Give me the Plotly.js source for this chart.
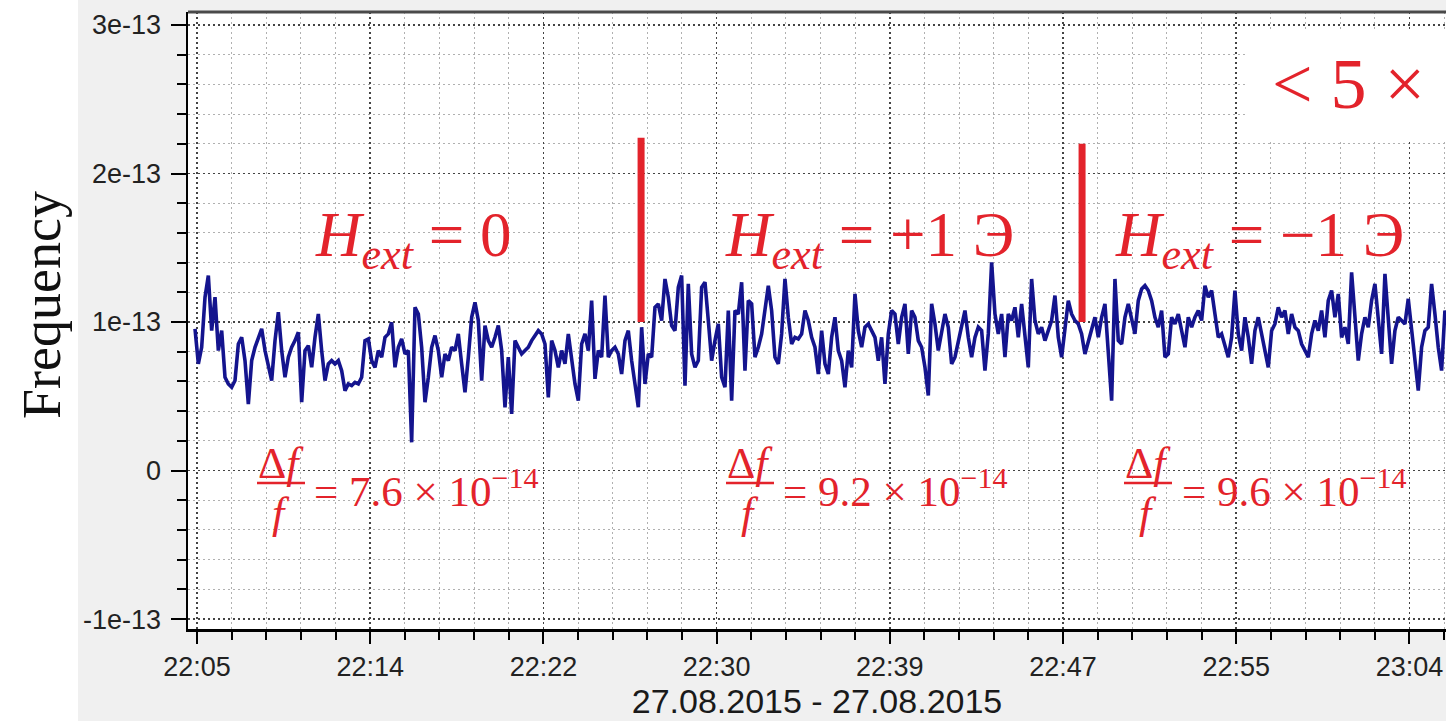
<!DOCTYPE html>
<html><head><meta charset="utf-8">
<script src="https://cdn.plot.ly/plotly-3.0.1.min.js"></script>
<style>html,body{margin:0;padding:0;background:#fff}#chart{width:1446px;height:721px}</style>
</head><body><div id="chart"></div>
<script>
// ---- data ----
const xTickLabels = ['22:05','22:14','22:22','22:30','22:39','22:47','22:55','23:04'];
const yTickValues = [-1e-13, 0, 1e-13, 2e-13, 3e-13];
const yTickLabels = ['-1e-13','0','1e-13','2e-13','3e-13'];

// frequency deviation, units of 1e-14, sampled every ~9.7 s
const freqZeroField = [
9.54, 7.18, 8.30, 11.67, 13.13, 9.42, 11.67, 8.08, 9.42, 6.28,
5.83, 5.61, 6.06, 8.52, 8.97, 7.40, 4.48, 7.40, 8.30, 8.97,
9.54, 8.08, 7.18, 6.06, 8.75, 10.66, 8.08, 6.28, 7.63, 8.30,
8.75, 9.31, 4.60, 8.08, 8.41, 6.95, 8.97, 10.54, 8.08, 6.06,
7.18, 7.40, 7.18, 7.40, 6.73, 5.38, 5.83, 5.72, 5.94, 5.83,
6.28, 8.75, 8.86, 7.40, 6.95, 8.08, 7.63, 8.97, 9.20, 9.98,
6.95, 8.30, 8.86, 7.85, 8.08, 1.90, 10.99, 10.54, 8.30, 4.60,
6.28, 8.30, 9.09, 8.08, 6.28, 7.85, 7.40, 8.30, 8.08, 9.20,
7.18, 5.27, 7.63, 10.32, 11.33, 10.10, 6.06, 9.76, 8.75, 8.30,
8.97, 9.76, 8.08, 4.26, 7.63, 3.81, 8.75, 8.30, 7.85, 8.08,
8.30, 8.75, 9.09, 9.42, 9.20, 8.52, 4.93, 8.75, 8.08, 6.95,
8.08, 7.18, 9.20, 7.63, 5.83, 4.71, 8.52, 9.20, 8.08, 11.44,
6.17, 8.08, 7.63, 11.78, 7.63, 8.08, 8.30, 7.85, 6.50, 8.75,
9.42, 7.40, 5.61, 4.26, 9.65, 5.83, 7.85];
const freqPlusField = [
7.63, 10.99, 11.22, 10.10, 12.90, 11.67, 9.76, 9.42, 12.34, 13.13,
5.72, 12.57, 7.85, 6.95, 7.40, 12.34, 12.68, 10.10, 7.40, 8.75,
9.87, 6.28, 5.61, 10.77, 4.71, 10.77, 10.54, 12.68, 6.73, 11.44,
11.22, 7.63, 8.30, 9.20, 10.77, 12.45, 10.77, 7.63, 7.18, 9.20,
12.90, 10.32, 8.52, 8.97, 8.86, 9.20, 10.77, 10.10, 8.97, 8.30,
6.50, 9.42, 7.18, 6.50, 8.97, 10.32, 8.08, 7.40, 5.61, 8.08,
6.95, 11.89, 9.42, 8.30, 9.65, 9.87, 9.42, 8.97, 7.40, 8.97,
5.83, 9.20, 10.77, 10.54, 8.52, 10.32, 11.22, 7.85, 10.77, 10.32,
8.75, 8.30, 6.95, 5.05, 11.22, 9.87, 8.08, 9.20, 10.54, 9.65,
7.18, 7.63, 8.75, 9.87, 10.77, 8.97, 7.63, 8.97, 9.65, 9.42,
6.73, 9.20, 14.02, 10.54, 9.20, 10.54, 7.63, 10.54, 10.10, 10.99,
8.97, 11.22, 9.20, 6.95, 12.90, 10.10, 9.20, 9.65, 8.75, 9.42,
10.10, 11.78, 8.97, 7.63, 9.65, 11.44, 10.54, 10.10, 9.87, 9.20,
7.85, 8.75, 9.65, 10.32, 8.97];
const freqMinusField = [
10.32, 11.22, 8.30, 4.71, 12.90, 8.75, 8.52, 10.32, 11.22, 10.10,
9.20, 11.44, 12.23, 12.45, 12.12, 11.44, 10.32, 9.65, 10.77, 7.63,
7.85, 10.32, 9.87, 10.54, 9.42, 8.30, 10.32, 9.65, 10.32, 10.77,
10.10, 12.45, 11.67, 12.12, 10.54, 8.97, 9.20, 8.30, 7.63, 8.97,
12.12, 9.20, 8.08, 10.32, 8.97, 7.18, 9.42, 10.32, 9.20, 8.08,
6.95, 9.42, 9.87, 10.99, 10.32, 10.77, 9.20, 10.54, 9.65, 9.42,
8.52, 8.08, 7.63, 9.20, 10.10, 9.42, 10.77, 8.97, 11.44, 12.12,
10.32, 11.89, 8.97, 9.65, 8.52, 13.35, 10.32, 7.40, 9.20, 10.32,
9.65, 11.44, 12.57, 10.32, 7.85, 13.24, 10.32, 7.18, 9.42, 10.32,
10.10, 9.87, 11.56, 9.65, 7.40, 5.38, 8.30, 9.42, 9.65, 12.57,
10.54, 8.30, 6.73, 10.77, 9.65];

const sampleStartMin = 4.903;   // minutes after 22:00
const sampleStepMin = 0.1622;   // sampling period in minutes
const tickStartMin = 5;         // 22:05
const tickStepMin = 59 / 7;     // label spacing

// field-switch markers
const switchMin  = [26.61, 48.07];
const switchLow  = [1.0e-13, 1.0e-13];
const switchHigh = [2.24e-13, 2.20e-13];

const fieldLabels = [
  '<i>H</i><sub><i>ext</i></sub> = 0',
  '<i>H</i><sub><i>ext</i></sub> = +1 Э',
  '<i>H</i><sub><i>ext</i></sub> = −1 Э'
];
const stabilityValues = ['7.6', '9.2', '9.6'];

// ---- build ----
const freq = freqZeroField.concat(freqPlusField, freqMinusField).map(v => v * 1e-14);
const timeMin = freq.map((_, i) => sampleStartMin + i * sampleStepMin);
const xTickVals = xTickLabels.map((_, k) => tickStartMin + k * tickStepMin);

const RED = '#e3232b';
const traces = [{
  x: timeMin, y: freq, type: 'scatter', mode: 'lines',
  line: {color: '#14148e', width: 3.6}, hoverinfo: 'skip'
}];
switchMin.forEach((t, i) => traces.push({
  x: [t, t], y: [switchLow[i], switchHigh[i]], type: 'scatter', mode: 'lines',
  line: {color: RED, width: 7}, hoverinfo: 'skip'
}));

// plot box in px (for annotation placement)
const L = 188, T = 12, W = 1258, H = 617;
const px = x => (x - L) / W;
const py = y => (T + H - y) / H;

const serif = 'Liberation Serif';
const annotations = [];
const shapes = [
  {type: 'rect', xref: 'paper', yref: 'paper', layer: 'below',
   x0: px(0), x1: px(78), y0: py(721), y1: py(0),
   fillcolor: '#ffffff', line: {width: 0}},
  {type: 'rect', xref: 'paper', yref: 'paper', layer: 'above',
   x0: px(1245), x1: 1.01, y0: py(139), y1: py(30),
   fillcolor: '#ffffff', line: {width: 0}},
  {type: 'line', xref: 'paper', yref: 'paper', layer: 'above',
   x0: 0, x1: 1, y0: 1, y1: 1, line: {color: '#4a4a4a', width: 3}}
];

const fieldLeft = [313, 723, 1113];
fieldLabels.forEach((txt, i) => annotations.push({
  xref: 'paper', yref: 'paper', x: px(fieldLeft[i]), y: py(240),
  xanchor: 'left', yanchor: 'middle', showarrow: false, text: txt,
  font: {family: serif, size: 63, color: RED}
}));
const fracLeft = [257, 726, 1124];
const fracWidth = 48;
const valueLeft = [312, 781, 1180];
stabilityValues.forEach((v, i) => {
  const c = fracLeft[i] + fracWidth / 2;
  annotations.push({
    xref: 'paper', yref: 'paper', x: px(c), y: py(463),
    xanchor: 'center', yanchor: 'middle', showarrow: false,
    text: 'Δ<i>f</i>', font: {family: serif, size: 44, color: RED}
  });
  annotations.push({
    xref: 'paper', yref: 'paper', x: px(c), y: py(513),
    xanchor: 'center', yanchor: 'middle', showarrow: false,
    text: '<i>f</i>', font: {family: serif, size: 44, color: RED}
  });
  shapes.push({type: 'line', xref: 'paper', yref: 'paper', layer: 'above',
    x0: px(fracLeft[i]), x1: px(fracLeft[i] + fracWidth), y0: py(483), y1: py(483),
    line: {color: RED, width: 2.5}});
  annotations.push({
    xref: 'paper', yref: 'paper', x: px(valueLeft[i]), y: py(488),
    xanchor: 'left', yanchor: 'middle', showarrow: false,
    text: '= ' + v + ' × 10<sup>−14</sup>',
    font: {family: serif, size: 43, color: RED}
  });
});
annotations.push({
  xref: 'paper', yref: 'paper', x: px(1270), y: py(84),
  xanchor: 'left', yanchor: 'middle', showarrow: false,
  text: '&lt; 5 ×', font: {family: serif, size: 72, color: RED}
});
// y-axis title
annotations.push({
  xref: 'paper', yref: 'paper', x: px(42), y: py(305),
  xanchor: 'center', yanchor: 'middle', showarrow: false, textangle: -90,
  text: 'Frequency', font: {family: serif, size: 54, color: '#111'}
});

const tickFont = {family: 'Liberation Sans', size: 27, color: '#222'};
const layout = {
  width: 1446, height: 721,
  margin: {l: L, r: 0, t: T, b: 721 - T - H, pad: 0},
  paper_bgcolor: '#f0f0f0', plot_bgcolor: '#ffffff',
  showlegend: false,
  xaxis: {
    range: [4.562, 65.78], tickmode: 'array', tickvals: xTickVals, ticktext: xTickLabels,
    ticks: 'outside', ticklen: 12, tickwidth: 2, tickcolor: '#000',
    showline: true, linecolor: '#000', linewidth: 2.5,
    showgrid: true, gridcolor: '#444', gridwidth: 1.5, griddash: '2px,3px',
    zeroline: false, tickfont: tickFont,
    minor: {tickmode: 'linear', tick0: tickStartMin, dtick: tickStepMin / 5,
            ticks: 'outside', ticklen: 8, tickwidth: 2, tickcolor: '#000',
            showgrid: true, gridcolor: '#b0b0b0', gridwidth: 1, griddash: '2px,3px'},
    title: {text: '27.08.2015 - 27.08.2015', standoff: 8,
            font: {family: 'Liberation Sans', size: 34, color: '#1a1a1a'}}
  },
  yaxis: {
    range: [-1.067e-13, 3.0875e-13], tickmode: 'array', tickvals: yTickValues, ticktext: yTickLabels,
    ticks: 'outside', ticklen: 15, tickwidth: 2, tickcolor: '#000', ticklabelstandoff: 4,
    showline: true, linecolor: '#000', linewidth: 2.5,
    showgrid: true, gridcolor: '#444', gridwidth: 1.5, griddash: '2px,3px',
    zeroline: false, tickfont: tickFont,
    minor: {tickmode: 'linear', tick0: 0, dtick: 2e-14,
            ticks: 'outside', ticklen: 9, tickwidth: 2, tickcolor: '#000',
            showgrid: true, gridcolor: '#b0b0b0', gridwidth: 1, griddash: '2px,3px'}
  },
  annotations: annotations,
  shapes: shapes
};
Plotly.newPlot('chart', traces, layout, {displayModeBar: false, staticPlot: true});
</script></body></html>
